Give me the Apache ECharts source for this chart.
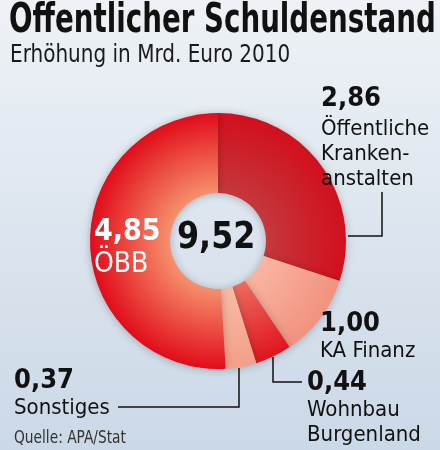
<!DOCTYPE html>
<html>
<head>
<meta charset="utf-8">
<script src="https://cdn.jsdelivr.net/npm/echarts@6/dist/echarts.min.js"></script>
<style>
  html, body { margin: 0; padding: 0; }
  #chart { width: 440px; height: 450px; }
</style>
</head>
<body>
<div id="chart"></div>
<script>
// Erhöhung in Mrd. Euro 2010
const categories = ['Öffentliche\nKranken-\nanstalten', 'KA Finanz', 'Wohnbau\nBurgenland', 'Sonstiges', 'ÖBB']
const values = [2.86, 1.00, 0.44, 0.37, 4.85]
const total = 9.52

const FONT = '"DejaVu Sans Condensed", "Liberation Sans", sans-serif'
const CX = 218
const CY = 241
const R_IN = 48
const R_OUT = 128

// inner / outer colour of each ring piece
const sliceColors = [
  ['#c4383c', '#d20f1d'],
  ['#f8b6a2', '#f2927f'],
  ['#ec6c5c', '#e0141f'],
  ['#f8bba6', '#f39f89'],
  ['#f6906c', '#e10c1a']
]

// label anchors and leader lines
const labelPos = [
  { x: 321, y: 81, line: [[348, 236], [382, 236], [382, 192]] },
  { x: 320, y: 309, line: null },
  { x: 307, y: 368, line: [[273, 357], [273, 382], [302, 382]] },
  { x: 14, y: 366, line: [[239, 368], [239, 407], [118, 407]] },
  { x: 94, y: 214, line: null }
]

function fmt (v) {
  return v.toFixed(2).replace('.', ',')
}

function grad (c) {
  return {
    type: 'radial', x: CX, y: CY, r: R_OUT, global: true,
    colorStops: [
      { offset: R_IN / R_OUT, color: c[0] },
      { offset: 1, color: c[1] }
    ]
  }
}

var chart = echarts.init(document.getElementById('chart'))

var data = categories.map((name, i) => {
  var item = {
    name: name,
    value: values[i],
    itemStyle: { color: grad(sliceColors[i]) }
  }
  if (i === 0) {
    // a bit more room under the number here
    item.label = {
      rich: {
        v: { fontFamily: FONT, fontSize: 27, fontWeight: 'bold', lineHeight: 36, color: '#111' },
        n: { fontFamily: FONT, fontSize: 22, lineHeight: 25, color: '#111' }
      }
    }
  }
  if (i === 4) {
    // ÖBB label sits inside the ring, white
    item.label = {
      rich: {
        v: { fontFamily: FONT, fontSize: 30, fontWeight: 'bold', lineHeight: 36, color: '#fff' },
        n: { fontFamily: FONT, fontSize: 28, lineHeight: 30, color: '#fff' }
      }
    }
  }
  if (!labelPos[i].line) {
    item.labelLine = { show: false }
  }
  return item
})

var option = {
  backgroundColor: {
    type: 'linear', x: 0, y: 0, x2: 0, y2: 1,
    colorStops: [
      { offset: 0, color: '#eef2f6' },
      { offset: 1, color: '#cbd8e7' }
    ]
  },
  animation: false,
  graphic: [
    {
      type: 'text', x: 9, y: 2, scaleX: 0.77,
      style: { text: 'Öffentlicher Schuldenstand', font: 'bold 40px ' + FONT, fill: '#111' }
    },
    {
      type: 'text', x: 10, y: 43, scaleX: 0.89,
      style: { text: 'Erhöhung in Mrd. Euro 2010', font: '25px ' + FONT, fill: '#1a1a1a' }
    },
    {
      type: 'text', x: 14, y: 430, scaleX: 0.9,
      style: { text: 'Quelle: APA/Stat', font: '17px ' + FONT, fill: '#333' }
    },
    {
      type: 'text', x: 177, y: 219, scaleX: 0.93,
      style: { text: fmt(total), font: 'bold 38px ' + FONT, fill: '#111' }
    }
  ],
  series: [{
    type: 'pie',
    center: [CX, CY],
    radius: [R_IN, R_OUT],
    startAngle: 90,
    clockwise: true,
    data: data,
    itemStyle: {
      shadowBlur: 8,
      shadowColor: 'rgba(0,0,0,0.25)',
      shadowOffsetY: 1
    },
    emphasis: { disabled: true },
    label: {
      show: true,
      position: 'outside',
      overflow: 'none',
      formatter: p => {
        var lines = p.name.split('\n').map(s => '{n|' + s + '}')
        return '{v|' + fmt(p.value) + '}\n' + lines.join('\n')
      },
      rich: {
        v: { fontFamily: FONT, fontSize: 27, fontWeight: 'bold', lineHeight: 30, color: '#111' },
        n: { fontFamily: FONT, fontSize: 22, lineHeight: 25, color: '#111' }
      }
    },
    labelLine: {
      show: true,
      lineStyle: { color: '#111', width: 1.5 }
    },
    labelLayout: p => {
      var pos = labelPos[p.dataIndex]
      var out = { x: pos.x, y: pos.y, align: 'left', verticalAlign: 'top' }
      if (pos.line) out.labelLinePoints = pos.line
      return out
    }
  }]
}

chart.setOption(option)
</script>
</body>
</html>
